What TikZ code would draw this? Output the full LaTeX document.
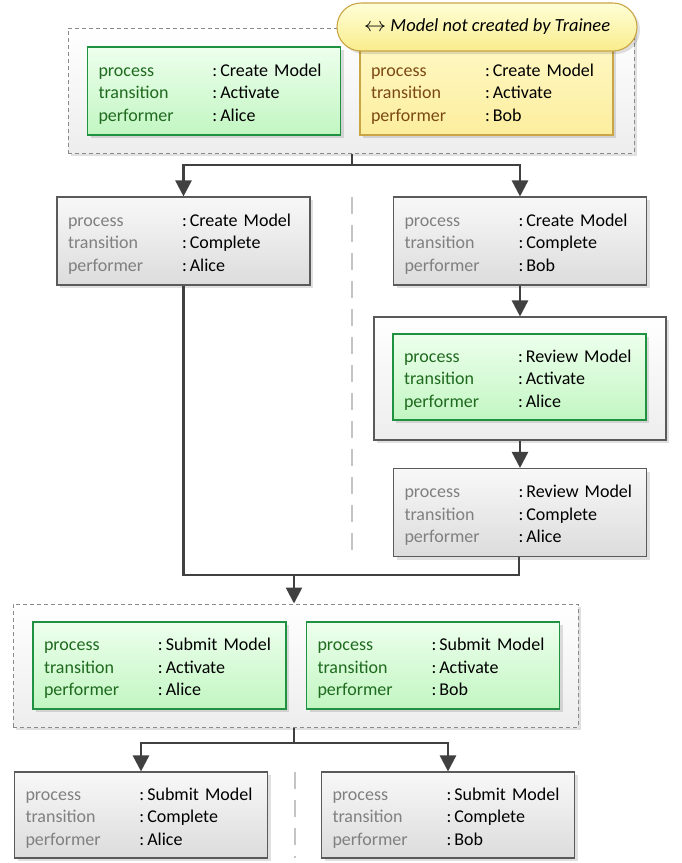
\documentclass[tikz,border=0pt]{standalone}
\usepackage{fontspec}
\usepackage{graphicx}
\setmainfont{Carlito}
\usetikzlibrary{arrows.meta,shadows}

\definecolor{grnline}{HTML}{1E9240}
\definecolor{grntop}{HTML}{EDFFED}
\definecolor{grnbot}{HTML}{C2F6C2}
\definecolor{grnlab}{HTML}{1F6A1F}
\definecolor{ylwline}{HTML}{C9A545}
\definecolor{ylwtop}{HTML}{FFF7C2}
\definecolor{ylwbot}{HTML}{FCEE9E}
\definecolor{ylwlab}{HTML}{7B4A12}
\definecolor{calltop}{HTML}{FFFFD8}
\definecolor{callbot}{HTML}{F9EC8C}
\definecolor{gryline}{HTML}{5A5A5A}
\definecolor{grytop}{HTML}{F8F8F8}
\definecolor{grybot}{HTML}{DCDCDC}
\definecolor{grylab}{HTML}{808080}
\definecolor{connc}{HTML}{404040}
\definecolor{sepc}{HTML}{C4C4C4}
\definecolor{grpline}{HTML}{8A8A8A}

% one record: three label/value rows, label column 114pt wide
\newcommand{\recline}[3]{\makebox[231pt][l]{\makebox[114pt][l]{\color{#1}#2}:\hspace{3pt}#3}}
\newcommand{\rec}[4]{%
  \rule{0pt}{18pt}\recline{#1}{process}{#2}\\
  \recline{#1}{transition}{#3}\\
  \recline{#1}{performer}{#4}}

\tikzset{
  soft shadow/.style={drop shadow={shadow xshift=3pt, shadow yshift=-3pt,
      fill=black, opacity=0.12}},
  record/.style={rectangle, inner xsep=11pt, inner ysep=0pt, text width=231pt,
      minimum height=88pt, align=left, font=\fontsize{18}{22.5}\selectfont,
      soft shadow},
  greenrec/.style={record, draw=grnline, line width=1.4pt,
      top color=grntop, bottom color=grnbot},
  yellowrec/.style={record, draw=ylwline, line width=1.1pt,
      top color=ylwtop, bottom color=ylwbot},
  grayrec/.style={record, draw=gryline, line width=1.1pt,
      top color=grytop, bottom color=grybot},
  group/.style={rectangle, draw=grpline, dashed, dash pattern=on 4pt off 3pt,
      line width=1pt, top color=white, bottom color=black!7, soft shadow},
  wrapbox/.style={rectangle, draw=gryline, line width=1.1pt,
      top color=white, bottom color=black!7, soft shadow},
  callout/.style={rectangle, rounded corners=24pt, draw=ylwline, line width=1.1pt,
      top color=calltop, bottom color=callbot, minimum width=300pt,
      minimum height=48pt, font=\fontsize{18.5}{22}\selectfont\itshape, soft shadow},
  flow/.style={draw=connc, line width=2.5pt,
      -{Triangle[length=16pt,width=16pt]}},
  plain/.style={draw=connc, line width=2.5pt},
  separator/.style={draw=sepc, line width=2.5pt, dash pattern=on 17pt off 11pt},
}

\begin{document}
\begin{tikzpicture}[x=1pt,y=-1pt]
  \useasboundingbox (0,0) rectangle (681,863);

  % --- top group: both activations of Create Model
  \node[group, minimum width=566pt, minimum height=125pt] (topgrp) at (351,90.5) {};
  \node[greenrec] (caA) at (214,91) {\rec{grnlab}{Create Model}{Activate}{Alice}};
  \node[yellowrec] (caB) at (486.5,91) {\rec{ylwlab}{Create Model}{Activate}{Bob}};
  \node[callout] (note) at (487,27) {\scalebox{1.3}[1.15]{$\leftrightarrow$} Model not created by Trainee};

  % --- completion of Create Model
  \node[grayrec] (ccA) at (183.5,241) {\rec{grylab}{Create Model}{Complete}{Alice}};
  \node[grayrec] (ccB) at (520,241) {\rec{grylab}{Create Model}{Complete}{Bob}};

  % --- review branch
  \node[wrapbox, minimum width=292pt, minimum height=123pt] (revwrap) at (520,378.5) {};
  \node[greenrec, minimum height=86pt] (raA) at (519.5,377) {\rec{grnlab}{Review Model}{Activate}{Alice}};
  \node[grayrec] (rcA) at (520,512.5) {\rec{grylab}{Review Model}{Complete}{Alice}};

  % --- submit group
  \node[group, minimum width=565pt, minimum height=123pt] (subgrp) at (295.5,665.5) {};
  \node[greenrec, minimum height=87pt] (saA) at (159.5,665.5) {\rec{grnlab}{Submit Model}{Activate}{Alice}};
  \node[greenrec, minimum height=87pt] (saB) at (433,665.5) {\rec{grnlab}{Submit Model}{Activate}{Bob}};

  % --- submit completion
  \node[grayrec, minimum height=86pt] (scA) at (141,815) {\rec{grylab}{Submit Model}{Complete}{Alice}};
  \node[grayrec, minimum height=86pt] (scB) at (448,815) {\rec{grylab}{Submit Model}{Complete}{Bob}};

  % --- parallel-lane separators
  \coordinate (sepTa) at (352,197);
  \coordinate (sepTb) at (352,556);
  \coordinate (sepBa) at (295,772);
  \coordinate (sepBb) at (295,858);
  \draw[separator] (sepTa) -- (sepTb);
  \draw[separator] (sepBa) -- (sepBb);

  % --- connectors
  \coordinate (split1) at (352,165);
  \draw[plain] (topgrp.south -| split1) -- (split1);
  \draw[flow] (split1) -| (ccA.north);
  \draw[flow] (split1) -| (ccB.north);

  \draw[flow] (ccB.south) -- (revwrap.north -| ccB.south);
  \draw[flow] (revwrap.south -| rcA.north) -- (rcA.north);

  \coordinate (join) at (294,575);
  \draw[plain] (ccA.south) |- (join);
  \draw[plain] (rcA.south -| 519,0) |- (join);
  \draw[flow] (join) -- (subgrp.north -| join);

  \coordinate (split2) at (294,743);
  \draw[plain] (subgrp.south -| split2) -- (split2);
  \draw[flow] (split2) -| (scA.north);
  \draw[flow] (split2) -| (scB.north);
\end{tikzpicture}
\end{document}
